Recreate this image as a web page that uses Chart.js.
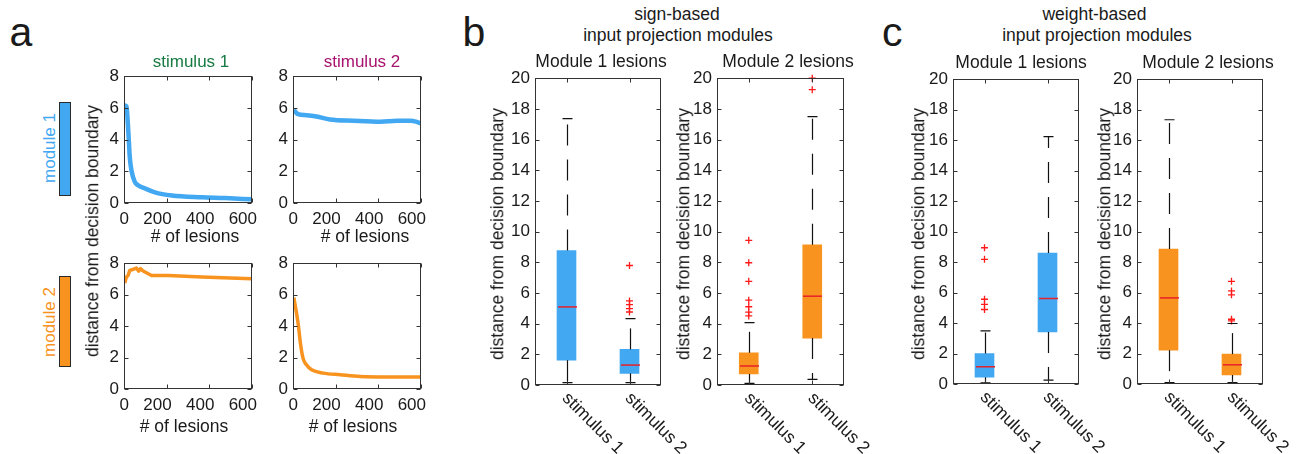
<!DOCTYPE html>
<html><head><meta charset="utf-8">
<script src="https://cdn.jsdelivr.net/npm/chart.js@4"></script>
<style>
html,body{margin:0;padding:0;background:#fff;}
#fig{position:relative;width:1303px;height:454px;overflow:hidden;font-family:"Liberation Sans",Helvetica,Arial,sans-serif;color:#1a1a1a;}
.t{position:absolute;white-space:nowrap;line-height:1;}
.rect{position:absolute;box-sizing:border-box;border:1.5px solid #2a2a2a;}
</style></head>
<body><div id="fig"></div>
<script>
// ---------------- DATA ----------------
// panel a: distance from decision boundary vs # of lesions
const M1_S1_LESIONS = [3,12,18,22,27,35,50,66,98,145,224,365,476,598];
const M1_S1_DIST    = [6.15,6.1,5.0,4.1,2.9,2.05,1.35,1.12,0.92,0.67,0.47,0.36,0.31,0.23];
const M1_S2_LESIONS = [3,8,24,63,110,173,284,410,489,553,577,600];
const M1_S2_DIST    = [5.85,5.8,5.6,5.54,5.46,5.27,5.19,5.13,5.19,5.19,5.13,5.02];
const M2_S1_LESIONS = [4,11,19,27,42,58,69,77,90,105,129,208,365,598];
const M2_S1_DIST    = [6.74,7.12,7.22,7.54,7.6,7.69,7.5,7.65,7.5,7.39,7.22,7.22,7.12,7.01];
const M2_S2_LESIONS = [4,24,35,47,63,87,142,221,315,441,597];
const M2_S2_DIST    = [5.81,4.17,2.9,1.96,1.54,1.22,1.01,0.91,0.8,0.77,0.77];
const LESION_TICKS = [0,200,400,600];
const DIST_TICKS_A = [0,2,4,6,8];

// panels b, c: box plots [lower whisker, q1, median, q3, upper whisker]
const CATS = ['stimulus 1','stimulus 2'];
const SIGN_M1_BOX = [[0.15,1.62,5.09,8.77,17.36],[0.15,0.76,1.3,2.32,4.33]];
const SIGN_M1_OUT = [[],[7.79,5.48,5.24,4.98,4.76]];
const SIGN_M2_BOX = [[0.1,0.72,1.24,2.1,4.07],[0.37,3.06,5.79,9.14,17.49]];
const SIGN_M2_OUT = [[9.43,7.97,6.76,5.53,5.1,4.75,4.5],[20.0,19.25]];
const WEIGHT_M1_BOX = [[0.08,0.44,1.13,2.0,3.49],[0.26,3.42,5.61,8.59,16.23]];
const WEIGHT_M1_OUT = [[8.94,8.18,5.56,5.23,4.89],[]];
const WEIGHT_M2_BOX = [[0.1,2.22,5.65,8.86,17.34],[0.1,0.59,1.26,1.96,3.97]];
const WEIGHT_M2_OUT = [[],[6.74,6.11,5.85,4.25,4.14]];

// ---------------- STYLE ----------------
const BLUE = '#42a8f2', ORANGE = '#f7931e';
const FONT = '"Liberation Sans", Helvetica, Arial, sans-serif';
const TXT = '#1a1a1a';
const fig = document.getElementById('fig');

function txt(s, cx, base, size, color){
  const d=document.createElement('div'); d.className='t'; d.textContent=s;
  d.style.fontSize=size+'px'; d.style.left=cx+'px'; d.style.top=(base-0.8465*size)+'px';
  d.style.transform='translateX(-50%)'; if(color) d.style.color=color; fig.appendChild(d);
}
function txtL(s, x, base, size){
  const d=document.createElement('div'); d.className='t'; d.textContent=s;
  d.style.fontSize=size+'px'; d.style.left=x+'px'; d.style.top=(base-0.8465*size)+'px'; fig.appendChild(d);
}
function rot(s, cx, cy, size, color){
  const d=document.createElement('div'); d.className='t'; d.textContent=s;
  d.style.fontSize=size+'px'; d.style.left=cx+'px'; d.style.top=cy+'px';
  d.style.transform='translate(-50%,-50%) rotate(-90deg)'; if(color) d.style.color=color; fig.appendChild(d);
}
function rect(l,t,w,h,color){
  const d=document.createElement('div'); d.className='rect';
  d.style.cssText+=`left:${l}px;top:${t}px;width:${w}px;height:${h}px;background:${color};`; fig.appendChild(d);
}

function makeCanvas(r, YW, PT, PR, XH){
  const [L,T,R,B]=r;
  const div=document.createElement('div');
  div.style.cssText=`position:absolute;left:${L-YW}px;top:${T-PT}px;width:${YW+R-L+PR}px;height:${PT+B-T+XH}px;`;
  const cv=document.createElement('canvas'); div.appendChild(cv); fig.appendChild(div);
  return {cv, pad:{top:PT,right:PR,left:0,bottom:0}, YW, XH};
}

const framePlugin = {
  id:'frame',
  afterDraw(chart, args, opts){
    const {ctx, chartArea:a, scales} = chart; const xs=scales.x, ys=scales.y;
    ctx.save(); ctx.strokeStyle='#333'; ctx.lineWidth=1;
    const l=Math.round(a.left)+0.5, r=Math.round(a.right)-0.5, t=Math.round(a.top)+0.5, b=Math.round(a.bottom)-0.5;
    ctx.strokeRect(l,t,r-l,b-t);
    const tl=4; ctx.beginPath();
    ys.ticks.forEach(tk=>{const y=Math.round(ys.getPixelForValue(tk.value))+0.5; ctx.moveTo(l,y); ctx.lineTo(l+tl,y); ctx.moveTo(r,y); ctx.lineTo(r-tl,y);});
    xs.ticks.forEach(tk=>{const x=Math.round(xs.getPixelForValue(tk.value))+0.5; ctx.moveTo(x,b); ctx.lineTo(x,b-tl); ctx.moveTo(x,t); ctx.lineTo(x,t+tl);});
    ctx.stroke();
    // x tick labels (line plots), right-aligned just past the tick as in the original export
    if (opts && opts.xLabels) {
      ctx.font='17px '+FONT; ctx.fillStyle=TXT; ctx.textAlign='right'; ctx.textBaseline='alphabetic';
      xs.ticks.forEach(tk=>{ ctx.fillText(String(tk.value), xs.getPixelForValue(tk.value)+5, a.bottom+20.5); });
    }
    ctx.restore();
  }
};

const boxPlugin = {
  id:'boxw',
  afterDatasetsDraw(chart, args, opts){
    const {ctx} = chart; const ys=chart.scales.y, xs=chart.scales.x;
    const py=v=>ys.getPixelForValue(v);
    opts.stats.forEach((s,i)=>{
      const x=Math.round(xs.getPixelForValue(i))+0.5;
      ctx.save(); ctx.strokeStyle='#111'; ctx.lineWidth=1.2;
      ctx.setLineDash([21,14]);
      ctx.beginPath(); ctx.moveTo(x,py(s[3])); ctx.lineTo(x,py(s[4])); ctx.stroke();
      ctx.beginPath(); ctx.moveTo(x,py(s[1])); ctx.lineTo(x,py(s[0])); ctx.stroke();
      ctx.setLineDash([]);
      ctx.beginPath(); ctx.moveTo(x-5,py(s[4])); ctx.lineTo(x+5,py(s[4]));
      ctx.moveTo(x-5,py(s[0])); ctx.lineTo(x+5,py(s[0])); ctx.stroke();
      ctx.strokeStyle='#e8202a'; ctx.lineWidth=1.5;
      ctx.beginPath(); ctx.moveTo(x-9.5,py(s[2])); ctx.lineTo(x+9.5,py(s[2])); ctx.stroke();
      ctx.restore();
    });
  },
  afterDraw(chart){
    const {ctx} = chart; const xs=chart.scales.x;
    ctx.save(); ctx.font='17.5px '+FONT; ctx.fillStyle=TXT; ctx.textAlign='left'; ctx.textBaseline='alphabetic';
    chart.data.labels.forEach((c,i)=>{
      const x=xs.getPixelForValue(i);
      ctx.save(); ctx.translate(x-5, chart.chartArea.bottom+14); ctx.rotate(Math.PI/4); ctx.fillText(c,0,0); ctx.restore();
    });
    ctx.restore();
  }
};

const TICKFONT = {family:FONT, size:17};
const base = {animation:false, responsive:true, maintainAspectRatio:false, devicePixelRatio:1, events:[]};

function lineChart(r, xv, yv, color, width, smooth){
  const {cv,pad,YW,XH}=makeCanvas(r,42,14,24,34);
  new Chart(cv,{type:'line',
    data:{datasets:[{data:xv.map((x,i)=>({x, y:yv[i]})), borderColor:color, borderWidth:width, pointRadius:0,
      cubicInterpolationMode: smooth?'monotone':'default', tension:0, fill:false, borderJoinStyle:'round'}]},
    options:Object.assign({}, base, {layout:{padding:pad},
      plugins:{legend:{display:false}, tooltip:{enabled:false}, frame:{xLabels:true}},
      scales:{
        x:{type:'linear', min:LESION_TICKS[0], max:LESION_TICKS[LESION_TICKS.length-1],
           afterBuildTicks:s=>{s.ticks=LESION_TICKS.map(v=>({value:v}));},
           ticks:{display:false},
           grid:{display:false, drawTicks:false}, border:{display:false}, afterFit:s=>{s.height=XH;}},
        y:{type:'linear', min:DIST_TICKS_A[0], max:DIST_TICKS_A[DIST_TICKS_A.length-1],
           afterBuildTicks:s=>{s.ticks=DIST_TICKS_A.map(v=>({value:v}));},
           ticks:{font:TICKFONT, color:TXT, padding:5, autoSkip:false},
           grid:{display:false, drawTicks:false}, border:{display:false}, afterFit:s=>{s.width=YW;}}
      }}),
    plugins:[framePlugin]});
}

function boxChart(r, stats, outs, color){
  const {cv,pad,YW,XH}=makeCanvas(r,42,14,45,454-r[3]);
  const outData=[]; outs.forEach((arr,i)=>arr.forEach(v=>outData.push({x:CATS[i], y:v})));
  new Chart(cv,{type:'bar',
    data:{labels:CATS, datasets:[
      {type:'bar', data:stats.map(s=>[s[1],s[3]]), backgroundColor:color, borderWidth:0, barThickness:19},
      {type:'line', data:outData, showLine:false, pointStyle:'cross', pointRadius:3.5,
       pointBorderColor:'#ff1a1a', pointBackgroundColor:'#ff1a1a', pointBorderWidth:1.3, borderColor:'#ff1a1a', clip:false}
    ]},
    options:Object.assign({}, base, {layout:{padding:pad},
      plugins:{legend:{display:false}, tooltip:{enabled:false}, boxw:{stats}, frame:{xLabels:false}},
      scales:{
        x:{type:'category', offset:true, ticks:{display:false}, grid:{display:false, drawTicks:false}, border:{display:false}, afterFit:s=>{s.height=XH;}},
        y:{type:'linear', min:0, max:20, ticks:{stepSize:2, font:TICKFONT, color:TXT, padding:5, autoSkip:false},
           grid:{display:false, drawTicks:false}, border:{display:false}, afterFit:s=>{s.width=YW;}}
      }}),
    plugins:[framePlugin, boxPlugin]});
}

// ---------------- PANEL a ----------------
lineChart([124,75,252,203], M1_S1_LESIONS, M1_S1_DIST, BLUE, 4.5, true);
lineChart([293,75,421,203], M1_S2_LESIONS, M1_S2_DIST, BLUE, 4.5, true);
lineChart([124,262,252,389], M2_S1_LESIONS, M2_S1_DIST, ORANGE, 3.5, false);
lineChart([293,262,421,389], M2_S2_LESIONS, M2_S2_DIST, ORANGE, 3.5, true);

txtL('a', 9.5, 47, 41);
txt('stimulus 1', 191, 67, 17, '#177a43');
txt('stimulus 2', 362, 67, 17, '#a8126f');
rot('module 1', 49, 148, 17, BLUE);
rot('module 2', 49, 322, 17, ORANGE);
rect(59,102,12,94,BLUE);
rect(58.5,276,12,91,ORANGE);
rot('distance from decision boundary', 92.5, 231, 17.5);
txt('# of lesions', 195, 243, 17.5);
txt('# of lesions', 365, 243, 17.5);
txt('# of lesions', 184, 433, 17.5);
txt('# of lesions', 353, 433, 17.5);

// ---------------- PANEL b ----------------
boxChart([535,77,661,385], SIGN_M1_BOX, SIGN_M1_OUT, BLUE);
boxChart([717,77,844,385], SIGN_M2_BOX, SIGN_M2_OUT, ORANGE);
txtL('b', 462.5, 47, 41);
txt('sign-based', 677, 21, 17.5);
txt('input projection modules', 678, 42, 17.5);
txt('Module 1 lesions', 601, 68, 17.5);
txt('Module 2 lesions', 788, 68, 17.5);
rot('distance from decision boundary', 498, 234, 17.5);
rot('distance from decision boundary', 684, 234, 17.5);

// ---------------- PANEL c ----------------
boxChart([953,78,1079,384], WEIGHT_M1_BOX, WEIGHT_M1_OUT, BLUE);
boxChart([1137,78,1263,384], WEIGHT_M2_BOX, WEIGHT_M2_OUT, ORANGE);
txtL('c', 882, 47, 41);
txt('weight-based', 1094.5, 21, 17.5);
txt('input projection modules', 1097, 42, 17.5);
txt('Module 1 lesions', 1021, 68.5, 17.5);
txt('Module 2 lesions', 1208, 68.5, 17.5);
rot('distance from decision boundary', 919, 234, 17.5);
rot('distance from decision boundary', 1105, 234, 17.5);
</script>
</body></html>
